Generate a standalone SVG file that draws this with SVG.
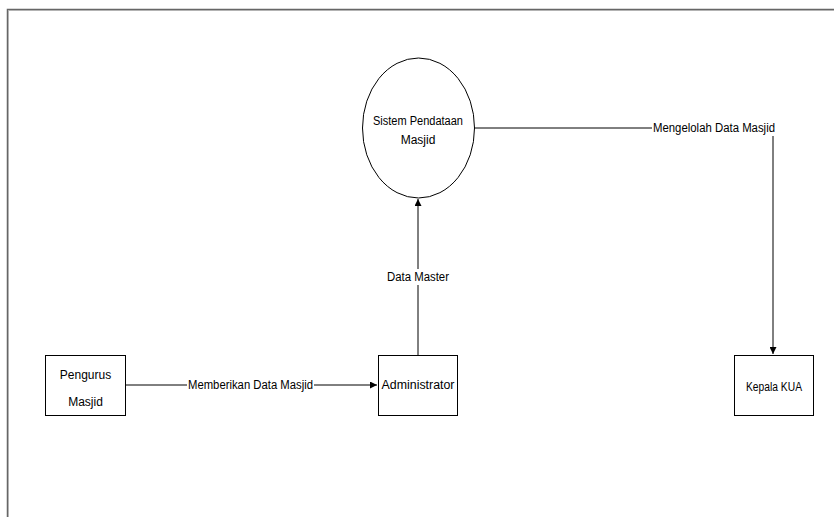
<svg xmlns="http://www.w3.org/2000/svg" width="834" height="517" viewBox="0 0 834 517">
<style>
.box{fill:#fff;stroke:#000;stroke-width:1}
.ln{fill:none;stroke:#000;stroke-width:1}
.t{font-family:"Liberation Sans",Arial,sans-serif;font-size:12px;fill:#000;text-anchor:middle;dominant-baseline:central}
.bg{fill:#fff}
</style>
<defs>
<marker id="ah" viewBox="0 0 10 10" refX="10" refY="5" markerWidth="7" markerHeight="7" markerUnits="userSpaceOnUse" orient="auto">
<path d="M0,0 L10,5 L0,10 z" fill="#000"/>
</marker>
</defs>
<rect width="834" height="517" fill="#fff"/>
<g id="frame">
<path d="M7.5,517 V9.5 H834" fill="none" stroke="#666" stroke-width="1.5"/>
<path d="M8.5,517 V10.5 H834" fill="none" stroke="#aaa" stroke-width="0.8"/>
</g>
<g id="connectors">
<line class="ln" x1="126" y1="385" x2="377" y2="385" marker-end="url(#ah)"/>
<rect class="bg" x="187" y="377" width="127" height="16"/>
<text class="t" x="250.5" y="385" textLength="125" lengthAdjust="spacingAndGlyphs">Memberikan Data Masjid</text>
<line class="ln" x1="418" y1="355" x2="418" y2="199" marker-end="url(#ah)"/>
<rect class="bg" x="386" y="269" width="64" height="16"/>
<text class="t" x="418" y="277" textLength="62" lengthAdjust="spacingAndGlyphs">Data Master</text>
<polyline class="ln" points="474,128 773,128 773,354" marker-end="url(#ah)"/>
<rect class="bg" x="652" y="120" width="124" height="16"/>
<text class="t" x="714" y="128" textLength="122" lengthAdjust="spacingAndGlyphs">Mengelolah Data Masjid</text>
<rect class="bg" x="765" y="136" width="16" height="2" opacity="0"/>
</g>
<g id="sistem">
<ellipse class="box" cx="418.5" cy="128" rx="56" ry="70" stroke="#333"/>
<text class="t" x="418" y="121" textLength="90" lengthAdjust="spacingAndGlyphs">Sistem Pendataan</text>
<text class="t" x="418" y="140">Masjid</text>
</g>
<g id="pengurus">
<rect class="box" x="45.5" y="355.5" width="80" height="60"/>
<text class="t" x="85.5" y="375">Pengurus</text>
<text class="t" x="85.5" y="402">Masjid</text>
</g>
<g id="administrator">
<rect class="box" x="378.5" y="355.5" width="79" height="60"/>
<text class="t" x="418" y="385" textLength="73" lengthAdjust="spacingAndGlyphs">Administrator</text>
</g>
<g id="kepala">
<rect class="box" x="734.5" y="355.5" width="79" height="60"/>
<text class="t" x="774" y="387" textLength="56" lengthAdjust="spacingAndGlyphs">Kepala KUA</text>
</g>
</svg>
